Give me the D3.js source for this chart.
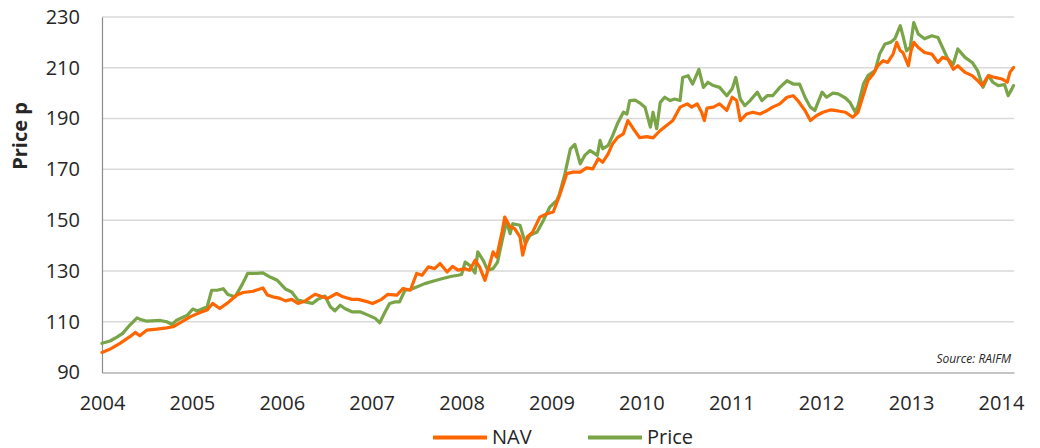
<!DOCTYPE html>
<html>
<head>
<meta charset="utf-8">
<script src="https://cdn.jsdelivr.net/npm/d3@7"></script>
<style>
    body { margin: 0; background: #fff; }
    #chart { width: 1040px; height: 448px; }
    text { font-family: "Open Sans", "Noto Sans", sans-serif; fill: #262626; }
</style>
</head>
<body>
<div id="chart"></div>
<script>
// dates are decimal years, values in pence
const navDates = [2004.00, 2004.09, 2004.20, 2004.31, 2004.37, 2004.42, 2004.50, 2004.61, 2004.72, 2004.79,
    2004.89, 2004.98, 2005.09, 2005.17, 2005.23, 2005.31, 2005.39, 2005.50, 2005.57, 2005.68,
    2005.79, 2005.84, 2005.90, 2005.98, 2006.04, 2006.11, 2006.18, 2006.26, 2006.37, 2006.45,
    2006.51, 2006.61, 2006.68, 2006.78, 2006.85, 2006.96, 2007.01, 2007.11, 2007.18, 2007.28,
    2007.35, 2007.43, 2007.50, 2007.56, 2007.63, 2007.70, 2007.76, 2007.84, 2007.90, 2007.96,
    2008.04, 2008.09, 2008.15, 2008.20, 2008.26, 2008.32, 2008.35, 2008.39, 2008.45, 2008.48,
    2008.54, 2008.59, 2008.65, 2008.68, 2008.73, 2008.79, 2008.87, 2008.95, 2009.02, 2009.09,
    2009.17, 2009.24, 2009.32, 2009.39, 2009.46, 2009.52, 2009.57, 2009.63, 2009.68, 2009.74,
    2009.80, 2009.85, 2009.91, 2009.98, 2010.06, 2010.13, 2010.21, 2010.28, 2010.35, 2010.43,
    2010.51, 2010.56, 2010.62, 2010.67, 2010.70, 2010.73, 2010.80, 2010.87, 2010.95, 2011.01,
    2011.06, 2011.10, 2011.17, 2011.24, 2011.32, 2011.40, 2011.46, 2011.54, 2011.62, 2011.69,
    2011.74, 2011.82, 2011.88, 2011.95, 2012.02, 2012.10, 2012.19, 2012.27, 2012.35, 2012.41,
    2012.45, 2012.52, 2012.58, 2012.63, 2012.69, 2012.74, 2012.80, 2012.84, 2012.88, 2012.91,
    2012.97, 2013.00, 2013.03, 2013.08, 2013.15, 2013.23, 2013.30, 2013.35, 2013.41, 2013.47,
    2013.52, 2013.60, 2013.68, 2013.74, 2013.79, 2013.86, 2013.93, 2014.01, 2014.07, 2014.10,
    2014.14];
const navValues = [97.9, 99.2, 101.5, 104.1, 105.8, 104.5, 106.7, 107.1, 107.6, 108.0,
    110.0, 111.9, 113.6, 114.6, 117.2, 115.2, 117.2, 120.5, 121.5, 122.0,
    123.3, 120.5, 119.8, 119.2, 118.2, 118.8, 117.2, 118.2, 120.8, 119.8,
    119.2, 121.1, 119.8, 118.8, 118.8, 117.8, 117.2, 118.8, 120.8, 120.5,
    123.1, 122.4, 129.0, 128.3, 131.6, 130.9, 132.9, 129.6, 131.8, 130.3,
    130.9, 130.3, 134.2, 131.6, 126.3, 133.5, 137.5, 135.5, 145.3, 151.2,
    147.3, 146.7, 143.4, 136.2, 143.4, 145.3, 151.2, 152.5, 153.2, 159.7,
    168.3, 168.9, 168.9, 170.6, 170.2, 174.2, 172.8, 176.1, 180.1, 182.7,
    184.0, 189.2, 186.0, 182.5, 182.9, 182.4, 185.3, 187.3, 189.2, 194.5,
    195.8, 194.5, 195.8, 192.5, 189.2, 194.1, 194.5, 195.8, 193.2, 198.4,
    197.1, 189.2, 191.8, 192.5, 191.8, 193.2, 194.5, 195.8, 198.4, 199.0,
    197.1, 193.2, 189.2, 191.2, 192.5, 193.4, 193.0, 192.5, 190.5, 192.5,
    197.1, 205.0, 207.6, 210.8, 212.8, 212.1, 215.4, 220.0, 216.7, 216.0,
    210.8, 216.7, 220.0, 218.0, 216.0, 215.4, 212.1, 214.1, 213.4, 209.4,
    210.8, 208.2, 206.9, 205.0, 203.0, 206.9, 206.2, 205.6, 204.3, 208.2,
    210.1];

const priceDates = [2004.00, 2004.09, 2004.17, 2004.23, 2004.31, 2004.39, 2004.42, 2004.50, 2004.65, 2004.72,
    2004.78, 2004.83, 2004.95, 2005.01, 2005.06, 2005.17, 2005.22, 2005.28, 2005.35, 2005.40,
    2005.48, 2005.56, 2005.62, 2005.72, 2005.79, 2005.87, 2005.95, 2006.04, 2006.11, 2006.18,
    2006.26, 2006.34, 2006.40, 2006.48, 2006.54, 2006.59, 2006.65, 2006.70, 2006.78, 2006.87,
    2006.96, 2007.04, 2007.09, 2007.15, 2007.20, 2007.26, 2007.31, 2007.37, 2007.43, 2007.50,
    2007.59, 2007.70, 2007.79, 2007.89, 2007.96, 2008.00, 2008.04, 2008.09, 2008.15, 2008.18,
    2008.24, 2008.29, 2008.35, 2008.40, 2008.46, 2008.50, 2008.54, 2008.57, 2008.65, 2008.71,
    2008.76, 2008.84, 2008.91, 2008.98, 2009.06, 2009.09, 2009.15, 2009.21, 2009.26, 2009.32,
    2009.37, 2009.43, 2009.51, 2009.54, 2009.57, 2009.63, 2009.68, 2009.74, 2009.80, 2009.84,
    2009.87, 2009.93, 2009.98, 2010.04, 2010.10, 2010.13, 2010.17, 2010.21, 2010.26, 2010.32,
    2010.37, 2010.43, 2010.46, 2010.52, 2010.57, 2010.64, 2010.69, 2010.74, 2010.80, 2010.87,
    2010.95, 2011.01, 2011.05, 2011.10, 2011.15, 2011.21, 2011.29, 2011.34, 2011.40, 2011.46,
    2011.54, 2011.62, 2011.69, 2011.76, 2011.82, 2011.88, 2011.93, 2012.01, 2012.06, 2012.13,
    2012.19, 2012.27, 2012.32, 2012.38, 2012.41, 2012.47, 2012.52, 2012.60, 2012.65, 2012.71,
    2012.77, 2012.82, 2012.88, 2012.91, 2012.95, 2012.99, 2013.03, 2013.08, 2013.15, 2013.23,
    2013.30, 2013.35, 2013.41, 2013.47, 2013.52, 2013.60, 2013.68, 2013.74, 2013.80, 2013.86,
    2013.91, 2013.97, 2014.04, 2014.08, 2014.12, 2014.14];
const priceValues = [101.5, 102.4, 104.0, 105.4, 108.7, 111.5, 111.0, 110.2, 110.5, 110.0,
    108.9, 110.6, 112.6, 115.0, 114.2, 115.9, 122.4, 122.4, 123.0, 120.7,
    119.8, 124.7, 129.0, 129.0, 129.2, 127.6, 126.3, 122.9, 121.7, 118.5,
    117.8, 117.2, 118.8, 120.1, 115.9, 114.3, 116.5, 115.2, 113.9, 113.9,
    112.6, 111.3, 109.6, 113.9, 117.2, 117.8, 117.8, 122.4, 122.7, 123.7,
    125.0, 126.1, 127.0, 127.9, 128.3, 128.6, 133.5, 132.2, 129.2, 137.5,
    134.2, 130.3, 130.9, 133.5, 143.4, 149.3, 144.7, 148.6, 148.0, 140.8,
    144.0, 145.3, 149.9, 155.1, 157.8, 160.4, 168.3, 178.1, 179.8, 172.2,
    175.5, 177.4, 175.5, 181.4, 178.1, 179.4, 183.3, 188.5, 192.5, 191.8,
    197.1, 197.3, 196.2, 194.5, 186.6, 192.5, 186.0, 196.4, 198.4, 197.1,
    197.7, 197.1, 206.2, 206.9, 203.6, 209.4, 202.3, 204.3, 203.0, 202.3,
    199.0, 201.7, 206.2, 197.7, 195.1, 197.1, 200.4, 197.1, 199.0, 199.0,
    202.3, 204.9, 203.6, 203.6, 198.4, 194.5, 193.2, 200.4, 198.4, 200.0,
    199.7, 198.1, 196.4, 192.5, 195.0, 203.6, 206.9, 208.9, 215.4, 219.4,
    220.0, 221.4, 226.6, 222.6, 216.7, 218.0, 227.8, 223.3, 221.4, 222.6,
    221.9, 218.0, 213.4, 211.4, 217.4, 214.1, 212.1, 208.9, 202.3, 206.9,
    204.3, 203.0, 203.4, 199.0, 201.6, 203.0];

const yearTicks = [2004, 2005, 2006, 2007, 2008, 2009, 2010, 2011, 2012, 2013, 2014];
const priceTicks = [90, 110, 130, 150, 170, 190, 210, 230];
const seriesNames = ["NAV", "Price"];
const seriesColors = ["#ff6600", "#79a447"];

class LineVis {
    constructor(_parentElement) {
        this.parentElement = _parentElement;
        this.initVis();
    }

    initVis() {
        let vis = this;

        vis.margin = { top: 17, right: 26, bottom: 75.5, left: 102 };
        vis.width = 1040 - vis.margin.left - vis.margin.right;
        vis.height = 448 - vis.margin.top - vis.margin.bottom;

        vis.svg = d3.select("#" + vis.parentElement).append("svg")
            .attr("width", 1040)
            .attr("height", 448)
            .append("g")
            .attr("transform", "translate(" + vis.margin.left + "," + vis.margin.top + ")");

        // scales
        vis.x = d3.scaleLinear()
            .domain([2004, 2014.145])
            .range([0, vis.width]);

        vis.y = d3.scaleLinear()
            .domain([90, 230])
            .range([vis.height, 0]);

        // gridlines
        vis.svg.append("g")
            .attr("class", "grid")
            .selectAll("line")
            .data(priceTicks.filter(d => d > 90))
            .enter().append("line")
            .attr("x1", 0)
            .attr("x2", vis.width)
            .attr("y1", d => vis.y(d))
            .attr("y2", d => vis.y(d))
            .attr("stroke", "#d9d9d9")
            .attr("stroke-width", 1.5);

        // axes
        vis.yAxis = d3.axisLeft(vis.y)
            .tickValues(priceTicks)
            .tickSize(0)
            .tickPadding(22);

        vis.xAxis = d3.axisBottom(vis.x)
            .tickValues(yearTicks)
            .tickFormat(d3.format("d"))
            .tickSize(0)
            .tickPadding(23);

        vis.yAxisGroup = vis.svg.append("g").call(vis.yAxis);
        vis.xAxisGroup = vis.svg.append("g")
            .attr("transform", "translate(0," + vis.height + ")")
            .call(vis.xAxis);

        [vis.yAxisGroup, vis.xAxisGroup].forEach(g => {
            g.select(".domain").attr("stroke", "#8c8c8c").attr("stroke-width", 1.2);
            g.selectAll("text")
                .style("font-family", "'Open Sans', 'Noto Sans', sans-serif")
                .style("font-size", "20px")
                .attr("fill", "#262626");
        });

        // axis title
        vis.svg.append("text")
            .attr("transform", "translate(" + (-75) + "," + 119 + ") rotate(-90)")
            .attr("text-anchor", "middle")
            .style("font-size", "20px")
            .style("font-weight", "bold")
            .attr("fill", "#000")
            .text("Price p");

        // source note
        vis.svg.append("text")
            .attr("x", vis.width - 3)
            .attr("y", vis.height - 10)
            .attr("text-anchor", "end")
            .style("font-size", "12px")
            .style("font-style", "italic")
            .text("Source: RAIFM");

        vis.linesGroup = vis.svg.append("g").attr("class", "lines");

        vis.wrangleData();
    }

    wrangleData() {
        let vis = this;

        vis.displayData = [
            { name: seriesNames[0], color: seriesColors[0], values: navDates.map((d, i) => ({ t: d, v: navValues[i] })) },
            { name: seriesNames[1], color: seriesColors[1], values: priceDates.map((d, i) => ({ t: d, v: priceValues[i] })) }
        ];

        vis.updateVis();
    }

    updateVis() {
        let vis = this;

        vis.line = d3.line()
            .x(d => vis.x(d.t))
            .y(d => vis.y(d.v));

        // price drawn first so NAV sits on top
        vis.linesGroup.selectAll("path")
            .data(vis.displayData.slice().reverse())
            .enter().append("path")
            .attr("d", d => vis.line(d.values))
            .attr("fill", "none")
            .attr("stroke", d => d.color)
            .attr("stroke-width", 3.2)
            .attr("stroke-linejoin", "round")
            .attr("stroke-linecap", "round");

        // legend
        let legendX = [331, 486];
        vis.displayData.forEach((s, i) => {
            vis.svg.append("line")
                .attr("x1", legendX[i])
                .attr("x2", legendX[i] + 54)
                .attr("y1", 420.5)
                .attr("y2", 420.5)
                .attr("stroke", s.color)
                .attr("stroke-width", 4);
            vis.svg.append("text")
                .attr("x", legendX[i] + 59)
                .attr("y", 427)
                .style("font-size", "20px")
                .text(s.name);
        });
    }
}

new LineVis("chart");
</script>
</body>
</html>
